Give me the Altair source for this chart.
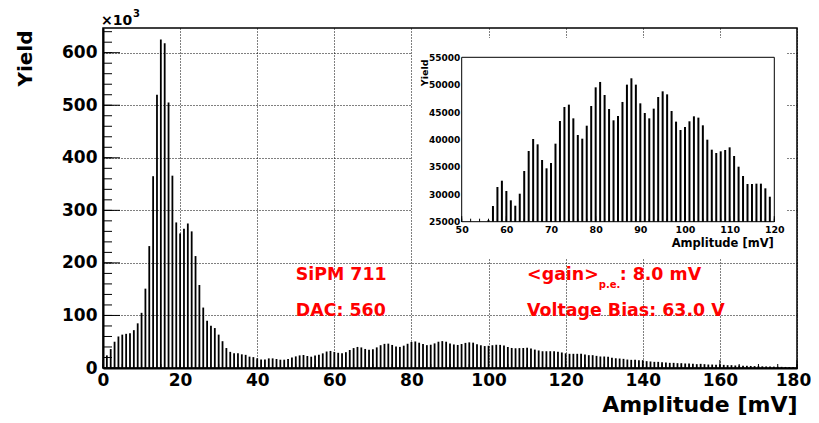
import altair as alt
import pandas as pd

# ---------------- data ----------------
AMP_BINS = list(range(1, 180))  # bin centres in mV
YIELD_K = [
    # 1-41
    24, 36, 50, 60, 63.5, 65, 66, 72, 85, 105, 151, 232, 365, 520, 625, 618, 505, 366,
    277, 256, 265, 275, 260, 213, 158, 115, 90, 80.5, 76, 63.5, 51, 38, 30.7, 28, 28,
    26, 25, 21.6, 20.7, 18.5, 16,
    # 42-56
    16.4, 18.3, 18.3, 17.1, 15.8, 15.8, 17.1, 20.2, 22.1, 24, 24.7, 22.8, 21.5, 24, 25.3,
    # 57-119
    27.86, 31.33, 32.48, 30.6, 28.9, 27.92, 30.11, 34.25, 37.9, 40.09, 39.12, 36.26,
    34.74, 35.71, 39.24, 43.38, 45.93, 46.36, 43.86, 40.82, 40.15, 42.52, 46.11, 49.52,
    50.5, 48.12, 45.57, 43.5, 44.29, 46.85, 50.01, 51.17, 50.01, 46.6, 44.84, 43.86,
    45.63, 47.76, 48.79, 48.24, 45.2, 43.26, 41.73, 42.28, 43.32, 44.23, 43.99, 42.59,
    39.97, 38.14, 37.54, 37.84, 38.08, 38.57, 36.99, 35.04, 33.34, 31.88, 31.88, 31.94,
    31.94, 31.09, 29.56,
    # 120-133
    28, 27, 27, 27, 27, 25.7, 24.4, 24.4, 23.1, 21.9, 21.9, 21.2, 19.3, 18.5,
    # 134-165
    18, 17.4, 16.1, 15.5, 15.5, 14.9, 14.2, 13, 12.4, 11.7, 11.7, 11.1, 10.5, 9.8, 9.8,
    9.2, 9.2, 8.6, 8.6, 7.9, 7.3, 7.9, 7.3, 6.6, 6.6, 6, 6, 6, 5.4, 5.4, 4.8, 4.8,
    # 166-179
    4.4, 4.2, 3.9, 3.6, 3.4, 3.2, 3.0, 2.8, 2.6, 2.4, 2.2, 2.0, 1.9, 1.7,
]
assert len(AMP_BINS) == len(YIELD_K)

X_LABELS = [0, 20, 40, 60, 80, 100, 120, 140, 160, 180]
X_MINOR = list(range(0, 181, 5))
Y_LABELS = [0, 100, 200, 300, 400, 500, 600]
Y_MINOR = list(range(0, 641, 20))

INSET_X_LABELS = [50, 60, 70, 80, 90, 100, 110, 120]
INSET_X_MINOR = list(range(50, 121, 2))
INSET_Y_LABELS = [25000, 30000, 35000, 40000, 45000, 50000, 55000]

NOTES_BIG = [
    {"amp": 50, "yk": 168, "t": "SiPM 711"},
    {"amp": 50, "yk": 99.4, "t": "DAC: 560"},
    {"amp": 110, "yk": 168, "t": "<gain>"},
    {"amp": 134.0, "yk": 168, "t": ": 8.0 mV"},
    {"amp": 110, "yk": 99.4, "t": "Voltage Bias: 63.0 V"},
]
NOTES_SUB = [{"amp": 128.6, "yk": 152.6, "t": "p.e."}]

# ---------------- layout ----------------
FONT = "DejaVu Sans"
W, H = 694, 340
IX0, IX1 = 358.7, 671.3   # inset plot area, pixels inside main plot
IY0, IY1 = 29.3, 193.7

df = pd.DataFrame({"amp": AMP_BINS, "yk": YIELD_K})

xs = alt.Scale(domain=[0, 180], nice=False, zero=False)
ys = alt.Scale(domain=[0, 647], nice=False, zero=False)

xaxis = alt.Axis(
    values=X_LABELS, grid=True, gridColor="black", gridDash=[1, 2], gridWidth=1,
    ticks=False, domainColor="black", domainWidth=2,
    labelFont=FONT, labelFontWeight="bold", labelFontSize=17, labelColor="black",
    labelPadding=4, labelFlush=False, format="d",
    labelOffset={"condition": {"test": "datum.value == 180", "value": -4}, "value": 0},
    title="Amplitude [mV]", titleFont=FONT, titleFontWeight="bold", titleFontSize=22,
    titleColor="black", titleX=W, titleY=43, titleAlign="right",
    titleBaseline="alphabetic", titleAnchor="end",
)
yaxis = alt.Axis(
    values=Y_LABELS, grid=True, gridColor="black", gridDash=[1, 2], gridWidth=1,
    ticks=False, domainColor="black", domainWidth=2,
    labelFont=FONT, labelFontWeight="bold", labelFontSize=17, labelColor="black",
    labelPadding=6, labelFlush=False, format="d",
    title="Yield", titleFont=FONT, titleFontWeight="bold", titleFontSize=20,
    titleColor="black", titleAngle=270, titleX=-78, titleY=2, titleAlign="right",
    titleBaseline="middle",
)

X = lambda: alt.X("amp:Q", scale=xs, axis=xaxis)
Y = lambda: alt.Y("yk:Q", scale=ys, axis=yaxis)

bars = alt.Chart(df).mark_rule(color="black", strokeWidth=1.8).encode(
    x=X(), y=Y(), y2=alt.datum(0)
)

xt_minor = alt.Chart(pd.DataFrame({"amp": X_MINOR})).mark_rule(color="black", strokeWidth=1).encode(
    x=X(), y=alt.value(H), y2=alt.value(H - 4)
)
xt_major = alt.Chart(pd.DataFrame({"amp": X_LABELS})).mark_rule(color="black", strokeWidth=1).encode(
    x=X(), y=alt.value(H), y2=alt.value(H - 8)
)
yt_minor = alt.Chart(pd.DataFrame({"yk": Y_MINOR})).mark_rule(color="black", strokeWidth=1).encode(
    y=Y(), x=alt.value(0), x2=alt.value(9)
)
yt_major = alt.Chart(pd.DataFrame({"yk": Y_LABELS})).mark_rule(color="black", strokeWidth=1).encode(
    y=Y(), x=alt.value(0), x2=alt.value(17)
)

notes_big = alt.Chart(pd.DataFrame(NOTES_BIG)).mark_text(
    align="left", baseline="alphabetic", font=FONT, fontWeight="bold",
    fontSize=17.4, color="#ff0000"
).encode(x=X(), y=Y(), text="t:N")
notes_sub = alt.Chart(pd.DataFrame(NOTES_SUB)).mark_text(
    align="left", baseline="alphabetic", font=FONT, fontWeight="bold",
    fontSize=10, color="#ff0000"
).encode(x=X(), y=Y(), text="t:N")

exp_main = alt.Chart(alt.Data(values=[{"t": "\u00d710"}])).mark_text(
    align="left", baseline="alphabetic", font=FONT, fontWeight="bold",
    fontSize=14, color="black"
).encode(x=alt.value(-2), y=alt.value(-3), text="t:N")
exp_sup = alt.Chart(alt.Data(values=[{"t": "3"}])).mark_text(
    align="left", baseline="alphabetic", font=FONT, fontWeight="bold",
    fontSize=10, color="black"
).encode(x=alt.value(30), y=alt.value(-11), text="t:N")

main = alt.layer(bars, xt_minor, xt_major, yt_minor, yt_major,
                 notes_big, notes_sub, exp_main, exp_sup)

# ---------------- inset ----------------
ixs = alt.Scale(domain=[50, 120], range=[IX0, IX1], nice=False, zero=False)
iys = alt.Scale(domain=[25000, 55000], range=[IY1, IY0], nice=False, zero=False)

ix_axis = alt.Axis(
    orient="bottom", offset=-(H - IY1), values=INSET_X_LABELS, grid=False,
    ticks=False, domain=False, zindex=2, format="d",
    labelFont=FONT, labelFontWeight="bold", labelFontSize=9.5, labelColor="black",
    labelPadding=3, labelFlush=False,
    title="Amplitude [mV]", titleFont=FONT, titleFontWeight="bold", titleFontSize=11.5,
    titleColor="black", titleX=IX1 - 1, titleY=24.5, titleAlign="right",
    titleBaseline="alphabetic",
)
iy_axis = alt.Axis(
    orient="left", offset=-IX0, values=INSET_Y_LABELS, grid=False,
    ticks=False, domain=False, zindex=2, format="d",
    labelFont=FONT, labelFontWeight="bold", labelFontSize=9, labelColor="black",
    labelPadding=2, labelFlush=False,
    title="Yield", titleFont=FONT, titleFontWeight="bold", titleFontSize=9.5,
    titleColor="black", titleAngle=270, titleX=-37.5, titleY=31, titleAlign="right",
    titleBaseline="middle",
)

IX = lambda: alt.X("amp:Q", scale=ixs, axis=ix_axis)

pad = alt.Chart(alt.Data(values=[{}])).mark_rect(fill="white", stroke=None).encode(
    x=alt.value(309), x2=alt.value(684), y=alt.value(10), y2=alt.value(230)
)
frame = alt.Chart(alt.Data(values=[{}])).mark_rect(fill="white", stroke="black", strokeWidth=1).encode(
    x=alt.value(IX0), x2=alt.value(IX1), y=alt.value(IY0), y2=alt.value(IY1)
)
ibars = alt.Chart(df).transform_filter(
    (alt.datum.amp >= 50) & (alt.datum.amp <= 119) & (alt.datum.yk >= 25)
).transform_calculate(yv="datum.yk * 1000").mark_rule(color="black", strokeWidth=2).encode(
    x=IX(), y=alt.Y("yv:Q", scale=iys, axis=iy_axis), y2=alt.datum(25000)
)
ixt_minor = alt.Chart(pd.DataFrame({"amp": INSET_X_MINOR})).mark_rule(color="black", strokeWidth=1).encode(
    x=IX(), y=alt.value(IY1), y2=alt.value(IY1 - 3)
)
ixt_major = alt.Chart(pd.DataFrame({"amp": INSET_X_LABELS})).mark_rule(color="black", strokeWidth=1).encode(
    x=IX(), y=alt.value(IY1), y2=alt.value(IY1 - 5.5)
)

inset = alt.layer(pad, frame, ibars, ixt_minor, ixt_major)

chart = alt.layer(main, inset).resolve_scale(x="independent", y="independent").properties(
    width=W, height=H,
    autosize=alt.AutoSizeParams(type="none"),
    padding={"left": 95, "top": 20, "right": 14, "bottom": 47},
    background="white",
).configure_view(stroke="black", strokeWidth=1.5)

chart.save("out.html", embed_options={"renderer": "svg", "actions": False})
